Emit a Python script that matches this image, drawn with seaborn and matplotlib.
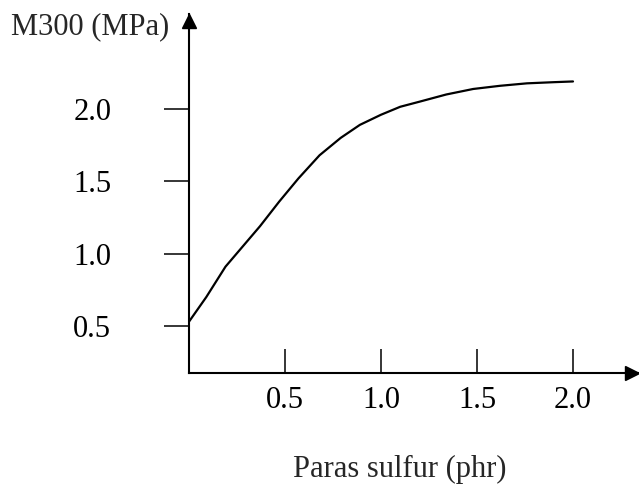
import matplotlib
matplotlib.use("Agg")
import matplotlib.pyplot as plt
import matplotlib.transforms as mtransforms
import seaborn as sns
import pandas as pd

sulfur = [0.0, 0.09, 0.19, 0.28, 0.37, 0.47, 0.57, 0.68, 0.79, 0.89, 1.0,
          1.10, 1.20, 1.34, 1.48, 1.62, 1.76, 1.90, 2.0]
m300 = [0.53, 0.70, 0.91, 1.05, 1.19, 1.36, 1.52, 1.68, 1.80, 1.89, 1.96,
        2.015, 2.05, 2.10, 2.138, 2.16, 2.177, 2.185, 2.19]
x_ticks = [0.5, 1.0, 1.5, 2.0]
y_ticks = [0.5, 1.0, 1.5, 2.0]
x_tick_labels = ["0.5", "1.0", "1.5", "2.0"]
y_tick_labels = ["0.5", "1.0", "1.5", "2.0"]

sns.set_style("white")
plt.rcParams['font.family'] = ['Liberation Serif', 'DejaVu Serif']

df = pd.DataFrame({"sulfur": sulfur, "m300": m300})

W, H = 639, 486
fig = plt.figure(figsize=(W / 100, H / 100), dpi=100)
left, right, bottom, top = 189, 639, 373, 14
ax = fig.add_axes([left / W, (H - bottom) / H, (right - left) / W, (bottom - top) / H])

sns.lineplot(data=df, x="sulfur", y="m300", ax=ax, color="black", linewidth=1.6)

ax.set_xlim(0, (right - left) / 192.0)
ax.set_ylim(0.5 - (bottom - 326) / 144.7, 0.5 + (326 - top) / 144.7)

for s in ["top", "right"]:
    ax.spines[s].set_visible(False)
for s in ["left", "bottom"]:
    ax.spines[s].set_linewidth(1.5)
    ax.spines[s].set_color("black")

ax.set_xticks(x_ticks)
ax.set_xticklabels(x_tick_labels)
ax.set_yticks(y_ticks)
ax.set_yticklabels(y_tick_labels)
ax.tick_params(axis="x", bottom=True, direction="in", length=17.5, width=1.1, pad=9,
               labelsize=22, colors="black")
ax.tick_params(axis="y", left=True, direction="out", length=18, width=1.1, pad=38,
               labelsize=22, colors="black")

ax.set_xlabel("")
ax.set_ylabel("")

# arrows (tips at the axis ends)
tr_x = mtransforms.offset_copy(ax.transAxes, fig=fig, x=-7, y=0, units="dots")
tr_y = mtransforms.offset_copy(ax.transAxes, fig=fig, x=0, y=-7, units="dots")
ax.plot(1, 0, ">", transform=tr_x, clip_on=False, color="black", markersize=10)
ax.plot(0, 1, "^", transform=tr_y, clip_on=False, color="black", markersize=10)

fig.text(293 / W, 1 - 477 / H, "Paras sulfur (phr)", ha="left", va="baseline", fontsize=22)
fig.text(11 / W, 1 - 34 / H, "M300 (MPa)", ha="left", va="baseline", fontsize=22)

fig.savefig("out.png", dpi=100)
